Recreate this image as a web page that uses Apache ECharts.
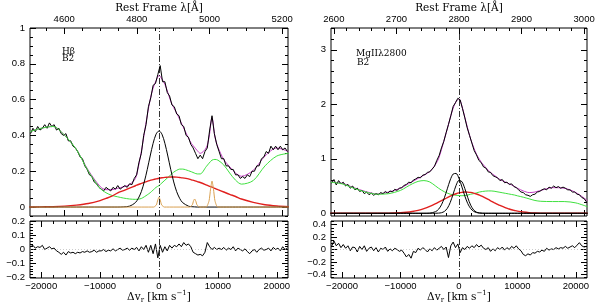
<!DOCTYPE html>
<html><head><meta charset="utf-8">
<script src="https://cdn.jsdelivr.net/npm/echarts@6/dist/echarts.min.js"></script>
<style>html,body{margin:0;padding:0;background:#fff}#c{width:600px;height:307px}</style>
</head><body><div id="c"></div>
<script>
// ---------- DATA ----------
// velocity grid of the observed spectra / residuals (km/s)
const vSpec = [-21800,-21400,-21000,-20600,-20200,-19800,-19400,-19000,-18600,-18200,
-17800,-17400,-17000,-16600,-16200,-15800,-15400,-15000,-14600,-14200,
-13800,-13400,-13000,-12600,-12200,-11800,-11400,-11000,-10600,-10200,
-9800,-9400,-9000,-8600,-8200,-7800,-7400,-7000,-6600,-6200,
-5800,-5400,-5000,-4600,-4200,-3800,-3400,-3000,-2600,-2200,
-1800,-1400,-1000,-600,-200,200,600,1000,1400,1800,
2200,2600,3000,3400,3800,4200,4600,5000,5400,5800,
6200,6600,7000,7400,7800,8200,8600,9000,9400,9800,
10200,10600,11000,11400,11800,12200,12600,13000,13400,13800,
14200,14600,15000,15400,15800,16200,16600,17000,17400,17800,
18200,18600,19000,19400,19800,20200,20600,21000,21400,21800];
// velocity grid of the fitted components (km/s)
const vComp = [-22000,-20000,-18000,-16000,-14000,-12000,-10000,-9000,-8000,-7000,
-6000,-5000,-4000,-3500,-3000,-2500,-2000,-1500,-1000,-500,
0,500,1000,1500,2000,2500,3000,3500,4000,5000,
5500,6000,6500,7000,8000,8500,9000,9500,10000,11000,
12000,13000,14000,16000,18000,20000,22000];

// ---- H beta panel ----
const hbSpectrum = [0.41,0.44,0.42,0.45,0.43,0.44,0.46,0.44,0.47,0.45,
0.46,0.43,0.44,0.41,0.40,0.41,0.37,0.37,0.34,0.33,
0.31,0.28,0.27,0.23,0.21,0.18,0.17,0.14,0.13,0.11,
0.10,0.09,0.11,0.10,0.09,0.11,0.10,0.12,0.10,0.11,
0.12,0.11,0.13,0.125,0.16,0.18,0.25,0.30,0.40,0.46,
0.56,0.61,0.68,0.69,0.74,0.79,0.70,0.70,0.64,0.62,
0.57,0.56,0.52,0.51,0.46,0.45,0.40,0.39,0.35,0.33,
0.30,0.27,0.29,0.27,0.31,0.33,0.43,0.51,0.41,0.35,
0.31,0.27,0.27,0.23,0.23,0.21,0.21,0.18,0.18,0.16,
0.17,0.16,0.18,0.17,0.20,0.20,0.23,0.23,0.27,0.28,
0.31,0.30,0.34,0.32,0.34,0.32,0.34,0.32,0.33,0.31];
const hbResidual = [0.02,0.03,0.01,0.02,0.015,0.03,0.0,0.01,0.02,0.005,
0.01,-0.01,-0.02,-0.035,-0.02,-0.04,-0.015,-0.025,-0.02,-0.03,
-0.02,-0.025,-0.015,-0.02,-0.01,-0.02,-0.015,-0.005,-0.02,-0.01,
-0.01,0.0,-0.015,-0.005,-0.01,0.005,-0.01,0.0,0.01,-0.005,
0.0,0.01,-0.005,0.01,0.0,0.015,-0.01,0.02,0.0,0.03,
-0.02,0.03,-0.03,0.04,-0.06,0.03,-0.02,0.02,-0.01,0.03,
0.01,0.03,0.02,0.04,0.02,0.05,0.03,0.04,0.02,-0.02,
-0.03,-0.04,-0.035,-0.045,-0.02,0.05,0.02,0.0,0.015,0.0,
0.01,0.0,0.015,-0.005,0.01,0.0,0.02,-0.01,0.01,0.0,
-0.01,0.005,-0.015,-0.03,-0.01,0.0,-0.02,0.0,0.01,-0.005,
0.0,0.01,-0.01,0.015,0.0,0.01,-0.01,0.02,0.0,0.01];
const hbModel = [0.42,0.44,0.45,0.40,0.32,0.205,0.115,0.097,0.097,0.105,
0.113,0.125,0.16,0.225,0.31,0.41,0.51,0.60,0.665,0.705,
0.735,0.715,0.685,0.64,0.59,0.555,0.525,0.49,0.455,0.385,
0.355,0.335,0.315,0.30,0.33,0.39,0.50,0.39,0.335,0.265,
0.225,0.19,0.172,0.205,0.285,0.33,0.31];
const hbFeII = [0.42,0.44,0.45,0.40,0.32,0.20,0.105,0.08,0.065,0.057,
0.05,0.045,0.043,0.044,0.048,0.057,0.068,0.08,0.095,0.11,
0.12,0.135,0.15,0.165,0.18,0.195,0.205,0.212,0.212,0.203,
0.197,0.19,0.185,0.185,0.225,0.245,0.262,0.266,0.262,0.235,
0.19,0.15,0.128,0.148,0.23,0.285,0.30];
const hbBroad = [0,0.001,0.002,0.005,0.011,0.020,0.036,0.048,0.061,0.079,
0.092,0.106,0.119,0.126,0.132,0.138,0.143,0.149,0.153,0.157,
0.161,0.164,0.166,0.167,0.168,0.168,0.167,0.165,0.163,0.157,
0.152,0.148,0.142,0.137,0.124,0.117,0.111,0.104,0.097,0.084,
0.071,0.059,0.045,0.026,0.013,0.006,0.002];
const hbCore = [0,0,0,0,0,0,0,0,0,0,
0.001,0.005,0.025,0.049,0.086,0.140,0.209,0.285,0.356,0.407,
0.425,0.407,0.356,0.285,0.209,0.140,0.086,0.049,0.025,0.005,
0.002,0.001,0,0,0,0,0,0,0,0,
0,0,0,0,0,0,0];
const vNarrow = [-22000,-900,-450,-200,0,200,450,900,
5200,5650,5850,6050,6250,6450,6900,
8000,8500,8750,9000,9250,9500,10000,22000];
const hbNarrow = [0,0,0.012,0.04,0.055,0.04,0.012,0,
0,0.012,0.033,0.045,0.033,0.012,0,
0,0.035,0.1,0.145,0.1,0.035,0,0];

// ---- Mg II panel ----
const mgSpectrum = [0.55,0.62,0.52,0.60,0.54,0.57,0.50,0.53,0.46,0.50,
0.43,0.46,0.40,0.42,0.36,0.39,0.34,0.37,0.33,0.36,
0.34,0.38,0.36,0.40,0.37,0.41,0.39,0.44,0.42,0.46,
0.47,0.51,0.53,0.57,0.56,0.61,0.63,0.66,0.65,0.70,
0.71,0.75,0.76,0.81,0.86,0.97,1.06,1.20,1.32,1.48,
1.63,1.79,1.96,2.03,2.11,2.08,1.92,1.75,1.57,1.43,
1.29,1.15,1.07,0.97,0.93,0.85,0.83,0.76,0.75,0.69,
0.67,0.65,0.60,0.62,0.56,0.57,0.53,0.54,0.49,0.47,
0.43,0.39,0.38,0.34,0.33,0.31,0.34,0.35,0.39,0.40,
0.43,0.45,0.43,0.48,0.46,0.50,0.47,0.49,0.46,0.48,
0.46,0.43,0.43,0.39,0.39,0.35,0.34,0.29,0.27,0.21];
const mgResidual = [0.05,0.14,0.06,0.10,0.03,0.08,0.02,0.06,-0.02,0.04,
0.03,-0.04,0.05,0.0,0.06,-0.03,0.02,0.04,-0.02,0.03,
-0.04,0.02,0.0,0.04,-0.03,0.01,-0.02,0.02,0.0,-0.03,
-0.01,-0.06,-0.12,-0.08,-0.14,-0.03,-0.05,0.02,-0.01,0.03,
0.0,-0.04,0.01,-0.02,0.03,-0.01,0.02,0.05,0.0,0.04,
-0.13,0.06,0.12,0.03,0.09,-0.05,0.03,0.0,0.05,0.02,
0.06,0.03,0.08,0.04,0.07,0.02,0.0,0.03,-0.03,0.01,
-0.02,0.03,0.0,0.04,-0.01,0.03,0.0,0.05,0.02,0.06,
0.01,-0.02,-0.08,-0.1,-0.07,-0.09,-0.05,-0.06,-0.03,-0.04,
-0.01,-0.03,0.02,-0.01,0.01,0.0,0.03,0.01,0.03,0.02,
0.05,0.02,0.04,0.06,0.03,0.07,0.11,0.06,0.04,0.05];
const mgModel = [0.57,0.55,0.47,0.40,0.355,0.39,0.46,0.52,0.58,0.64,
0.70,0.765,0.90,1.00,1.17,1.36,1.55,1.75,1.93,2.05,
2.10,1.97,1.76,1.55,1.36,1.21,1.08,0.99,0.91,0.79,
0.74,0.70,0.66,0.62,0.57,0.545,0.52,0.49,0.46,0.41,
0.38,0.39,0.42,0.47,0.46,0.38,0.23];
const mgFeII = [0.57,0.54,0.46,0.39,0.35,0.36,0.42,0.48,0.54,0.585,
0.60,0.575,0.50,0.46,0.425,0.395,0.37,0.35,0.34,0.33,
0.325,0.322,0.325,0.335,0.35,0.36,0.375,0.39,0.40,0.41,
0.41,0.405,0.395,0.385,0.365,0.355,0.345,0.335,0.32,0.295,
0.265,0.235,0.22,0.215,0.215,0.19,0.12];
const mgBroad = [0,0,0,0,0,0.002,0.010,0.018,0.032,0.053,
0.084,0.125,0.175,0.203,0.231,0.260,0.288,0.314,0.338,0.358,
0.374,0.384,0.39,0.389,0.383,0.371,0.354,0.333,0.309,0.254,
0.225,0.197,0.170,0.144,0.099,0.081,0.064,0.051,0.039,0.023,
0.012,0.006,0.003,0,0,0,0];
const mgCoreBlue = [0,0,0,0,0,0,0,0,0,0,
0,0.003,0.030,0.073,0.155,0.284,0.449,0.612,0.72,0.731,
0.64,0.483,0.315,0.177,0.086,0.036,0.013,0.004,0.001,0,
0,0,0,0,0,0,0,0,0,0,
0,0,0,0,0,0,0];
const mgCoreRed = [0,0,0,0,0,0,0,0,0,0,
0,0,0,0.003,0.010,0.034,0.090,0.198,0.353,0.512,
0.604,0.58,0.453,0.287,0.148,0.062,0.021,0.006,0.001,0,
0,0,0,0,0,0,0,0,0,0,
0,0,0,0,0,0,0];

// tick labels
const vTicks = [-20000,-10000,0,10000,20000];
const hbLamTicks = [4600,4800,5000,5200];
const mgLamTicks = [2600,2700,2800,2900,3000];
const hbYTicks = [0,0.2,0.4,0.6,0.8,1];
const mgYTicks = [0,1,2,3];
const hbResTicks = [-0.2,-0.1,0,0.1,0.2];
const mgResTicks = [-0.4,-0.2,0,0.2,0.4];

// ---------- CHART ----------
const C = 299792.458, V_MIN = -21900, V_MAX = 21900;
const SANS = 'Liberation Sans', SER = 'DejaVu Serif';
function seq(a,b,s){const r=[];for(let k=0;;k++){const t=Math.round((a+k*s)*1e6)/1e6;if(t>b+1e-9)break;r.push(t);}return r;}
const zip=(xs,ys)=>xs.map((x,i)=>[x,ys[i]]);
const fmt=v=>String(v).replace('-','\u2212');
const grids=[], xAxes=[], yAxes=[], series=[];
function tick(dim,gi,pos,min,max,vals,len,lab){
  const o={type:'value',gridIndex:gi,position:pos,min:min,max:max,
    axisLine:{show:false,onZero:false},splitLine:{show:false},
    axisTick:{show:true,inside:true,length:len,customValues:vals,lineStyle:{color:'#000',width:1}},
    axisLabel:{show:false}};
  if(lab) o.axisLabel={show:true,customValues:lab.vals,margin:lab.margin,fontSize:9.5,fontFamily:SANS,color:'#000',formatter:fmt};
  const arr = dim==='x'?xAxes:yAxes; arr.push(o); return arr.length-1;
}
function panel(c){
  const gbox={show:true,borderColor:'#000',borderWidth:1,backgroundColor:'transparent',containLabel:false,outerBoundsMode:'none'};
  const gm=grids.length; grids.push(Object.assign({left:c.left,top:28,width:c.width,height:188},gbox));
  const gr=grids.length; grids.push(Object.assign({left:c.left,top:221,width:c.width,height:57},gbox));
  xAxes.push({type:'value',gridIndex:gm,min:V_MIN,max:V_MAX,show:false,axisLine:{onZero:false}});
  const xm=xAxes.length-1;
  const lmin=c.lam0*(1+V_MIN/C), lmax=c.lam0*(1+V_MAX/C);
  const lMinor=seq(Math.ceil(lmin/c.lamStep)*c.lamStep,lmax,c.lamStep);
  tick('x',gm,'top',lmin,lmax,lMinor,3);
  tick('x',gm,'top',lmin,lmax,c.lamTicks,6,{vals:c.lamTicks,margin:4});
  tick('x',gm,'bottom',lmin,lmax,lMinor,3);
  tick('x',gm,'bottom',lmin,lmax,c.lamTicks,6);
  const yMinor=seq(c.yMinorStart,c.yMax,c.yStep);
  const ym=tick('y',gm,'left',c.yMin,c.yMax,c.yTicks,6,{vals:c.yTicks,margin:5});
  tick('y',gm,'left',c.yMin,c.yMax,yMinor,3);
  tick('y',gm,'right',c.yMin,c.yMax,c.yTicks,6);
  tick('y',gm,'right',c.yMin,c.yMax,yMinor,3);
  const vMinor=seq(-20000,20000,2000);
  const xr=tick('x',gr,'bottom',V_MIN,V_MAX,vTicks,6,{vals:vTicks,margin:3});
  tick('x',gr,'bottom',V_MIN,V_MAX,vMinor,3);
  tick('x',gr,'top',V_MIN,V_MAX,vTicks,6);
  tick('x',gr,'top',V_MIN,V_MAX,vMinor,3);
  const rMinor=seq(c.rMinorStart,c.rMax,c.rStep);
  const yr=tick('y',gr,'left',c.rMin,c.rMax,c.rTicks,6,{vals:c.rTicks,margin:5});
  tick('y',gr,'left',c.rMin,c.rMax,rMinor,3);
  tick('y',gr,'right',c.rMin,c.rMax,c.rTicks,6);
  tick('y',gr,'right',c.rMin,c.rMax,rMinor,3);
  return {xm,ym,xr,yr};
}
const vline={silent:true,symbol:['none','none'],label:{show:false},animation:false,
  lineStyle:{color:'#000',width:0.8,type:[6,2,1,2]},data:[{xAxis:0}]};
function line(ax,data,color,width,extra){
  series.push(Object.assign({type:'line',xAxisIndex:ax[0],yAxisIndex:ax[1],data:data,
    showSymbol:false,symbol:'none',lineStyle:{color:color,width:width},itemStyle:{color:color},
    silent:true,animation:false},extra||{}));
}
const MAG='#c43cc4', GRN='#3fe03f', RED='#e0201e', ORG='#d9a050';

const L=panel({left:30,width:258,lam0:4861,lamTicks:hbLamTicks,lamStep:50,
  yMin:-0.05,yMax:1,yTicks:hbYTicks,yMinorStart:-0.05,yStep:0.05,
  rMin:-0.205,rMax:0.205,rTicks:hbResTicks,rMinorStart:-0.2,rStep:0.02});
const R=panel({left:331,width:256,lam0:2800,lamTicks:mgLamTicks,lamStep:20,
  yMin:-0.05,yMax:3.4,yTicks:mgYTicks,yMinorStart:0,yStep:0.2,
  rMin:-0.46,rMax:0.46,rTicks:mgResTicks,rMinorStart:-0.45,rStep:0.05});

const resLine={...vline,data:[{xAxis:0},{yAxis:0,lineStyle:{color:'#aaa',width:0.6,type:[1,2]}}]};
// H beta
line([L.xm,L.ym],zip(vComp,hbModel),MAG,1,{smooth:0.3});
line([L.xm,L.ym],zip(vSpec,hbSpectrum),'#000',1,{markLine:vline});
line([L.xm,L.ym],zip(vComp,hbFeII),GRN,1,{smooth:0.3});
line([L.xm,L.ym],zip(vComp,hbBroad),RED,1.4,{smooth:0.3});
line([L.xm,L.ym],zip(vComp,hbCore),'#000',1,{smooth:0.3});
line([L.xm,L.ym],zip(vNarrow,hbNarrow),ORG,1,{smooth:0.2});
line([L.xr,L.yr],zip(vSpec,hbResidual),'#000',1,{markLine:resLine});
// Mg II
line([R.xm,R.ym],zip(vComp,mgModel),MAG,1,{smooth:0.3});
line([R.xm,R.ym],zip(vSpec,mgSpectrum),'#000',1,{markLine:vline});
line([R.xm,R.ym],zip(vComp,mgFeII),GRN,1,{smooth:0.3});
line([R.xm,R.ym],zip(vComp,mgBroad),RED,1.4,{smooth:0.3});
line([R.xm,R.ym],zip(vComp,mgCoreBlue),'#000',1,{smooth:0.3});
line([R.xm,R.ym],zip(vComp,mgCoreRed),'#000',1,{smooth:0.3});
line([R.xr,R.yr],zip(vSpec,mgResidual),'#000',1,{markLine:resLine});

function txt(x,y,text,size,align){
  return {type:'text',x:x,y:y,silent:true,z:100,
    style:{text:text,fill:'#000',fontSize:size,fontFamily:SER,align:align||'center',verticalAlign:'middle'}};
}
const dvTitle='{a|\u0394v}{b|r}{a| [km s}{c|\u22121}{a|]}';
const dvRich={a:{fontSize:10.5,fontFamily:SER,lineHeight:14,verticalAlign:'middle'},
  b:{fontSize:7,fontFamily:SER,lineHeight:8,verticalAlign:'bottom'},
  c:{fontSize:7,fontFamily:SER,lineHeight:8,verticalAlign:'top'}};
const graphic=[
  txt(159,8,'Rest Frame \u03bb[\u00c5]',10.5),
  txt(459,8,'Rest Frame \u03bb[\u00c5]',10.5),
  txt(62,51.5,'H\u03b2',9,'left'),
  txt(62,59,'B2',9,'left'),
  txt(356,54,'MgII\u03bb2800',9,'left'),
  txt(357,62.5,'B2',9,'left'),
  {type:'text',x:159,y:297,silent:true,style:{text:dvTitle,rich:dvRich,fill:'#000',align:'center',verticalAlign:'middle',fontFamily:SER,fontSize:10.5}},
  {type:'text',x:459,y:297,silent:true,style:{text:dvTitle,rich:dvRich,fill:'#000',align:'center',verticalAlign:'middle',fontFamily:SER,fontSize:10.5}}
];

const chart=echarts.init(document.getElementById('c'),null,{renderer:'canvas'});
chart.setOption({animation:false,backgroundColor:'#fff',textStyle:{fontFamily:SANS},
  grid:grids,xAxis:xAxes,yAxis:yAxes,series:series,graphic:graphic});
</script></body></html>
